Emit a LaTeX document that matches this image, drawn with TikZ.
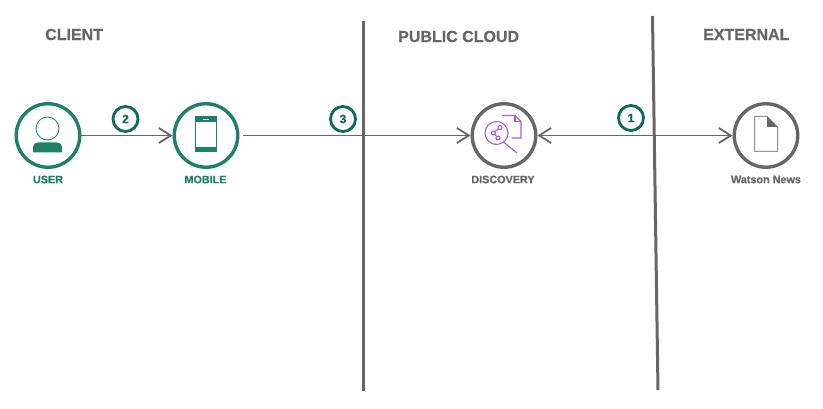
\documentclass[tikz,border=0pt]{standalone}
\usepackage{fontspec}
\setmainfont[BoldFeatures={FakeBold=0.6}]{Liberation Sans}
\usetikzlibrary{arrows.meta}
\definecolor{ibmgreen}{HTML}{1D8067}
\definecolor{badgegreen}{HTML}{0F6B57}
\definecolor{ibmgrey}{HTML}{666666}
\definecolor{ibmpurple}{HTML}{A55FDC}
\tikzset{
  x=1pt,y=-1pt,
  hub/.style={circle,draw,line width=3.4pt,minimum size=63.5pt,inner sep=0pt,fill=white},
  greenhub/.style={hub,draw=ibmgreen},
  greyhub/.style={hub,draw=ibmgrey},
  badge/.style={circle,draw=badgegreen,line width=2.8pt,minimum size=25pt,inner sep=0pt,fill=white,text=badgegreen,font=\bfseries\fontsize{12}{12}\selectfont},
  heading/.style={text=ibmgrey,font=\bfseries\fontsize{16}{16}\selectfont,inner sep=0pt},
  caption/.style={font=\bfseries\fontsize{10.8}{11}\selectfont,inner sep=0pt},
  barb/.tip={Straight Barb[length=12pt,width=15pt,line width=1.8pt]},
  link/.style={draw=ibmgrey,line width=1.9pt,-barb},
  bothlink/.style={draw=ibmgrey,line width=1.9pt,barb-barb},
  divider/.style={draw=ibmgrey,line width=3pt}
}
\begin{document}
\begin{tikzpicture}
\useasboundingbox (0,0) rectangle (823,409);
\fill[white] (0,0) rectangle (823,409);

% dividers
\coordinate (d1a) at (363.5,21);
\coordinate (d1b) at (363.5,391);
\coordinate (d2a) at (652.5,16);
\coordinate (d2b) at (658,390);

% hubs
\node[greenhub] (user) at (48,135.5) {};
\node[greenhub] (mobile) at (206,135.5) {};
\node[greyhub] (discovery) at (504,135.5) {};
\node[greyhub] (news) at (766,135.5) {};

% connectors
\draw[link] (user.east) -- (mobile.west);
\draw[link] (mobile.east) ++(4,0) -- (discovery.west);
\draw[bothlink] (discovery.east) -- (news.west);
\draw[divider] (d1a) -- (d1b);
\draw[divider] (d2a) -- (d2b);

% badges
\node[badge] (b2) at (125.5,119) {2};
\node[badge] (b3) at (343,119) {3};
\node[badge] (b1) at (631,118) {1};

% headings
\node[heading,anchor=west] (hclient) at (45,34.5) {CLIENT};
\node[heading,anchor=west] (hcloud) at (398,36.5) {PUBLIC CLOUD};
\node[heading,anchor=west] (hext) at (703,34.5) {EXTERNAL};

% captions
\node[caption,text=ibmgreen] (cuser) at (48,179.5) {USER};
\node[caption,text=ibmgreen] (cmobile) at (205.5,179.5) {MOBILE};
\node[caption,text=ibmgrey] (cdisc) at (503,179.5) {DISCOVERY};
\node[caption,text=ibmgrey] (cnews) at (766,179.5) {Watson News};

% user icon
\draw[ibmgreen,line width=0.8pt] (47.5,128.5) circle (11.5);
\fill[ibmgreen] (33,152.5) -- (33,147) .. controls (33,144.5) and (35,142.5) .. (38,142.5) -- (57,142.5) .. controls (60,142.5) and (62,144.5) .. (62,147) -- (62,152.5) -- cycle;

% mobile icon
\fill[ibmgreen] (195,116) rectangle (216.5,152.5);
\fill[white] (196,122) rectangle (215.5,147);
\fill[white] (203,118.6) rectangle (208.5,119.6);

% discovery icon
\begin{scope}[ibmpurple,line width=1.1pt]
\draw (502,115.5) -- (515,115.5) -- (521,121.5) -- (521,138) -- (511.5,138);
\draw (515,115.5) -- (515,121.5) -- (521,121.5);
\draw[fill=white] (496.5,133) circle (11.5);
\draw (503.5,142) -- (517,153);
\draw (493.5,133) -- (500,127.5) (493.5,133) -- (498,138);
\draw[fill=white] (493.5,133) circle (2);
\draw[fill=white] (500,127.5) circle (2);
\draw[fill=white] (498,138) circle (2);
\end{scope}

% document icon
\draw[ibmgrey!70,line width=1pt,fill=white] (754.5,116.5) -- (767,116.5) -- (777.5,127) -- (777.5,151.5) -- (754.5,151.5) -- cycle;
\fill[ibmgrey] (767,116.5) -- (777.5,127) -- (767,127) -- cycle;
\end{tikzpicture}
\end{document}
